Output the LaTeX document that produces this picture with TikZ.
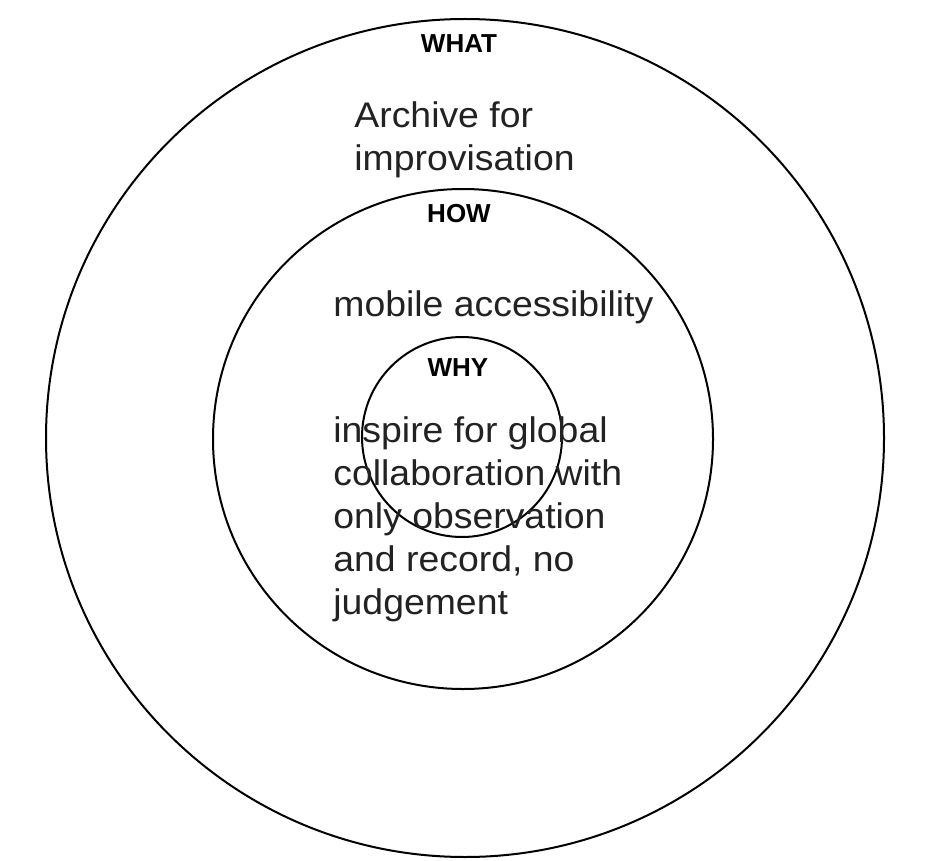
\documentclass[tikz,border=0pt]{standalone}
\usepackage{fontspec}
\setmainfont{Liberation Sans}
\newfontfamily\bodyfont[FakeStretch=1.05]{Liberation Sans}
\definecolor{inktext}{HTML}{222222}
\tikzset{
  ring/.style={draw=black, line width=1pt, circle, inner sep=0pt},
  tag/.style={font=\bfseries\fontsize{13}{15}\selectfont, inner sep=0pt, anchor=base},
  body/.style={font=\bodyfont\fontsize{17.8}{21.5}\selectfont, text=inktext, align=left, inner sep=0pt, anchor=base west},
}
\begin{document}
\begin{tikzpicture}[x=0.5pt,y=-0.5pt]
\useasboundingbox (0,0) rectangle (936,861);
% the three rings
\node [ring, minimum size=419pt] (whatring) at (465,438) {};
\node [ring, minimum size=250pt] (howring) at (463,439) {};
\node [ring, minimum size=100pt] (whyring) at (462,437) {};
% headings
\node [tag] (what) at (459,53) {WHAT};
\node [tag] (how) at (459,223) {HOW};
\node [tag] (why) at (458,376) {WHY};
% texts (base of a multi-line node = last line)
\node [body] (archive) at (354,171) {Archive for\\improvisation};
\node [body] (mobile) at (333,316) {mobile accessibility};
\node [body] (inspire) at (333,614) {inspire for global\\collaboration with\\only observation\\and record, no\\judgement};
\end{tikzpicture}
\end{document}
